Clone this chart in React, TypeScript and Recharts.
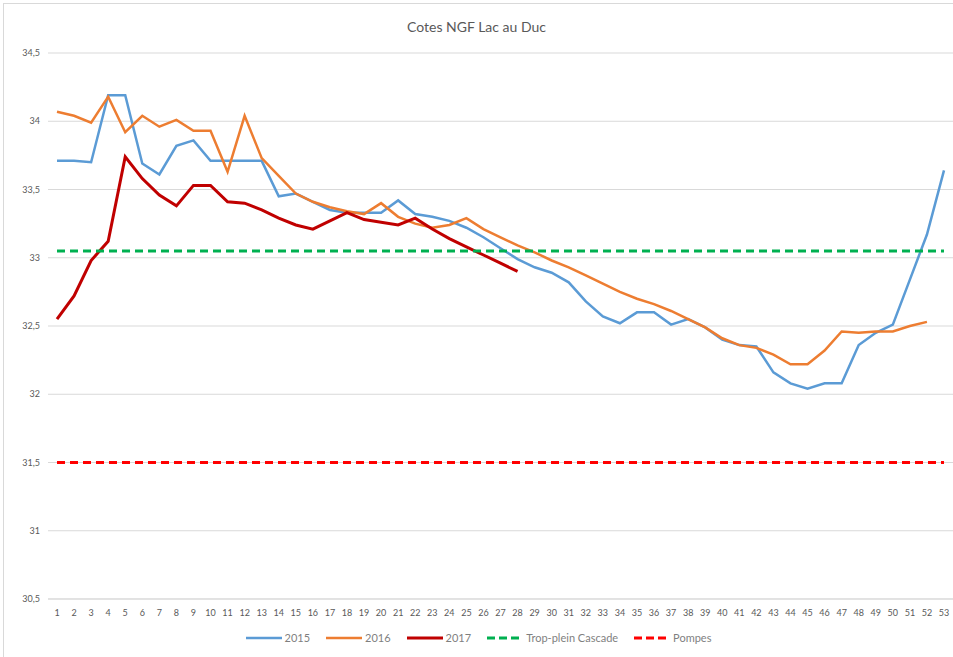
import { LineChart, Line, XAxis, YAxis, CartesianGrid, Legend } from 'recharts';

const weeks = Array.from({ length: 53 }, (_, i) => String(i + 1));

const serie2015 = [
  33.71, 33.71, 33.70, 34.19, 34.19, 33.69, 33.61, 33.82, 33.86, 33.71,
  33.71, 33.71, 33.71, 33.45, 33.47, 33.41, 33.35, 33.33, 33.33, 33.33,
  33.42, 33.32, 33.30, 33.27, 33.22, 33.15, 33.07, 32.99, 32.93, 32.89,
  32.82, 32.68, 32.57, 32.52, 32.60, 32.60, 32.51, 32.55, 32.49, 32.40,
  32.36, 32.35, 32.16, 32.08, 32.04, 32.08, 32.08, 32.36, 32.45, 32.51,
  32.84, 33.17, 33.64,
];

const serie2016 = [
  34.07, 34.04, 33.99, 34.18, 33.92, 34.04, 33.96, 34.01, 33.93, 33.93,
  33.63, 34.04, 33.73, 33.60, 33.47, 33.41, 33.37, 33.34, 33.32, 33.40,
  33.30, 33.25, 33.22, 33.24, 33.29, 33.21, 33.15, 33.09, 33.04, 32.98,
  32.93, 32.87, 32.81, 32.75, 32.70, 32.66, 32.61, 32.55, 32.49, 32.41,
  32.36, 32.34, 32.29, 32.22, 32.22, 32.32, 32.46, 32.45, 32.46, 32.46,
  32.50, 32.53, null,
];

const serie2017 = [
  32.55, 32.72, 32.98, 33.12, 33.74, 33.58, 33.46, 33.38, 33.53, 33.53,
  33.41, 33.40, 33.35, 33.29, 33.24, 33.21, 33.27, 33.33, 33.28, 33.26,
  33.24, 33.29, 33.21, 33.14, 33.08, 33.02, 32.96, 32.90,
];

const tropPlein = 33.05;
const pompes = 31.5;

const yTicks = [30.5, 31, 31.5, 32, 32.5, 33, 33.5, 34, 34.5];

const data = weeks.map((w, i) => ({
  week: w,
  s2015: serie2015[i] ?? null,
  s2016: serie2016[i] ?? null,
  s2017: serie2017[i] ?? null,
  trop: tropPlein,
  pompes: pompes,
}));

const legendItems = [
  { label: '2015', color: '#5B9BD5', dash: false, width: 2.5 },
  { label: '2016', color: '#ED7D31', dash: false, width: 2.5 },
  { label: '2017', color: '#C00000', dash: false, width: 3 },
  { label: 'Trop-plein Cascade', color: '#00B050', dash: true, width: 3 },
  { label: 'Pompes', color: '#FF0000', dash: true, width: 3 },
];

const renderLegend = () => (
  <div style={{ display: 'flex', justifyContent: 'center', gap: 16, fontSize: 11, color: '#7F7F7F', paddingTop: 10, paddingRight: 4 }}>
    {legendItems.map((it) => (
      <div key={it.label} style={{ display: 'flex', alignItems: 'center', gap: 3 }}>
        <svg width={36} height={6}>
          <line x1={0} y1={3} x2={36} y2={3} stroke={it.color} strokeWidth={it.width}
            strokeDasharray={it.dash ? '8 4' : undefined} />
        </svg>
        <span>{it.label}</span>
      </div>
    ))}
  </div>
);

export default function App() {
  return (
    <div style={{ position: 'absolute', left: 0, top: 0, width: 953, height: 657, background: '#fff', fontFamily: 'Lato, "Open Sans", sans-serif' }}>
      <div style={{ position: 'absolute', left: 3, top: 3, width: 960, height: 660, border: '1px solid #D9D9D9', boxSizing: 'border-box' }} />
      <div style={{ position: 'absolute', top: 18, left: 0, width: 953, textAlign: 'center', fontSize: 14, color: '#595959' }}>
        Cotes NGF Lac au Duc
      </div>
      <LineChart width={953} height={657} data={data} margin={{ top: 53, right: 0, bottom: 2, left: 8 }}
        style={{ position: 'absolute', left: 0, top: 0 }}>
        <CartesianGrid vertical={false} stroke="#D9D9D9" />
        <XAxis dataKey="week" interval={0} tickLine={false} axisLine={{ stroke: '#D9D9D9' }}
          padding={{ left: 9, right: 9 }} dy={3}
          tick={{ fontSize: 9, fill: '#595959' }} height={22} />
        <YAxis domain={[30.5, 34.5]} ticks={yTicks} width={40} axisLine={false} tickLine={false}
          tick={{ fontSize: 9, fill: '#595959' }} tickFormatter={(v: number) => String(v).replace('.', ',')} />
        <Legend verticalAlign="bottom" content={renderLegend} wrapperStyle={{ height: 34 }} />
        <Line dataKey="s2015" stroke="#5B9BD5" strokeWidth={2.5} dot={false} isAnimationActive={false} />
        <Line dataKey="s2016" stroke="#ED7D31" strokeWidth={2.5} dot={false} isAnimationActive={false} />
        <Line dataKey="s2017" stroke="#C00000" strokeWidth={3} dot={false} isAnimationActive={false} />
        <Line dataKey="trop" stroke="#00B050" strokeWidth={3} strokeDasharray="8 5" dot={false} isAnimationActive={false} />
        <Line dataKey="pompes" stroke="#FF0000" strokeWidth={3} strokeDasharray="8 5" dot={false} isAnimationActive={false} />
      </LineChart>
    </div>
  );
}
